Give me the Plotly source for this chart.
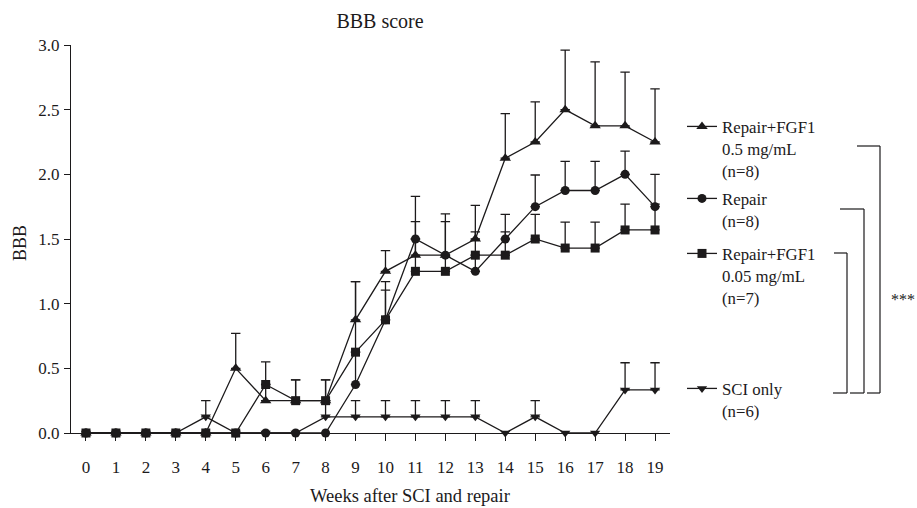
import plotly.graph_objects as go

# ---------------- data ----------------
weeks = list(range(20))
week_labels = [str(w) for w in weeks]

fgf05_mean = [0, 0, 0, 0, 0, 0.5, 0.25, 0.25, 0.25, 0.875, 1.25, 1.375, 1.375, 1.5, 2.125, 2.25, 2.5, 2.375, 2.375, 2.25]
fgf05_sem  = [0, 0, 0, 0, 0, 0.27, 0.125, 0.16, 0.16, 0.295, 0.16, 0.26, 0.32, 0.26, 0.345, 0.31, 0.46, 0.495, 0.415, 0.41]

repair_mean = [0, 0, 0, 0, 0, 0, 0, 0, 0, 0.375, 0.875, 1.5, 1.375, 1.25, 1.5, 1.75, 1.875, 1.875, 2.0, 1.75]
repair_sem  = [0, 0, 0, 0, 0, 0, 0, 0, 0, 0.25, 0.295, 0.33, 0.26, 0.125, 0.19, 0.245, 0.225, 0.225, 0.18, 0.25]

fgf005_mean = [0, 0, 0, 0, 0, 0, 0.375, 0.25, 0.25, 0.625, 0.875, 1.25, 1.25, 1.375, 1.375, 1.5, 1.43, 1.43, 1.57, 1.57]
fgf005_sem  = [0, 0, 0, 0, 0, 0, 0.175, 0.16, 0.16, 0.545, 0.23, 0.25, 0.125, 0.18, 0.18, 0.19, 0.2, 0.2, 0.2, 0.2]

sci_mean = [0, 0, 0, 0, 0.125, 0, 0, 0, 0.125, 0.125, 0.125, 0.125, 0.125, 0.125, 0, 0.125, 0, 0, 0.333, 0.333]
sci_sem  = [0, 0, 0, 0, 0.125, 0, 0, 0, 0.125, 0.125, 0.125, 0.125, 0.125, 0.125, 0, 0.125, 0, 0, 0.21, 0.21]

series = [
    ("Repair+FGF1<br>0.5 mg/mL<br>(n=8)", fgf05_mean, fgf05_sem, "triangle-up", 10, "legend"),
    ("Repair<br>(n=8)", repair_mean, repair_sem, "circle", 9, "legend2"),
    ("Repair+FGF1<br>0.05 mg/mL<br>(n=7)", fgf005_mean, fgf005_sem, "square", 9, "legend3"),
    ("SCI only<br>(n=6)", sci_mean, sci_sem, "triangle-down", 9, "legend4"),
]

# ---------------- geometry helpers ----------------
W, H = 917, 508
L, R, T, B = 71, 670, 45, 433


def px(x):
    return (x - L) / (R - L)


def py(y):
    return (B - y) / (B - T)


INK = "#1c1a1b"
FONT = "Liberation Serif"

fig = go.Figure()

# error bars first (one-sided, upward), only where SEM > 0
for name, mean, sem, sym, size, lg in series:
    xs = [w for w, s in zip(weeks, sem) if s > 0]
    ys = [m for m, s in zip(mean, sem) if s > 0]
    es = [s for s in sem if s > 0]
    fig.add_trace(go.Scatter(
        x=xs, y=ys, mode="markers",
        marker=dict(size=1, color="rgba(0,0,0,0)"),
        error_y=dict(type="data", array=es, arrayminus=[0] * len(es), symmetric=False,
                     color=INK, thickness=1.3, width=4.7),
        showlegend=False, hoverinfo="skip", cliponaxis=False,
    ))

for name, mean, sem, sym, size, lg in series:
    fig.add_trace(go.Scatter(
        x=weeks, y=mean, mode="lines+markers", name=name,
        line=dict(color=INK, width=1.3),
        marker=dict(symbol=sym, size=size, color=INK),
        cliponaxis=False, legend=lg,
    ))

# legends positioned individually
leg_y_px = [127, 199, 254, 389]
legend_common = dict(
    xanchor="left", yanchor="top", x=px(682),
    font=dict(family=FONT, size=16.8, color=INK),
    bgcolor="rgba(0,0,0,0)", borderwidth=0, valign="top",
    itemwidth=30, tracegroupgap=0,
)
layout_legends = {}
for i, key in enumerate(["legend", "legend2", "legend3", "legend4"]):
    d = dict(legend_common)
    d["y"] = py(leg_y_px[i] - 18)
    layout_legends[key] = d

# significance brackets (annotation graphics)
brackets = [
    # (top y, top x start, vertical x, bottom x start)
    (146, 857, 880, 867),
    (209, 840, 864, 850),
    (253, 834, 847, 833),
]
shapes = []
for ty, tx0, vx, bx0 in brackets:
    shapes.append(dict(type="line", xref="paper", yref="paper",
                       x0=px(tx0), x1=px(vx), y0=py(ty), y1=py(ty),
                       line=dict(color=INK, width=1.2)))
    shapes.append(dict(type="line", xref="paper", yref="paper",
                       x0=px(vx), x1=px(vx), y0=py(ty), y1=py(393),
                       line=dict(color=INK, width=1.2)))
    shapes.append(dict(type="line", xref="paper", yref="paper",
                       x0=px(bx0), x1=px(vx), y0=py(393), y1=py(393),
                       line=dict(color=INK, width=1.2)))

annotations = [
    dict(text="***", x=px(903), y=py(299), xref="paper", yref="paper",
         showarrow=False, font=dict(family=FONT, size=16, color=INK),
         xanchor="center", yanchor="middle"),
    dict(text="Weeks after SCI and repair", x=px(410), y=py(496), xref="paper", yref="paper",
         showarrow=False, font=dict(family=FONT, size=18.5, color=INK),
         xanchor="center", yanchor="middle"),
    dict(text="BBB", x=px(20), y=py(243), xref="paper", yref="paper", textangle=-90,
         showarrow=False, font=dict(family=FONT, size=18, color=INK),
         xanchor="center", yanchor="middle"),
]

fig.update_layout(
    width=W, height=H,
    margin=dict(l=L, r=W - R, t=T, b=H - B, autoexpand=False),
    paper_bgcolor="white", plot_bgcolor="white",
    title=dict(text="BBB score", x=px(380), xref="paper", xanchor="center",
               y=1 - 21 / H, yref="container", yanchor="middle",
               font=dict(family=FONT, size=20, color=INK)),
    shapes=shapes, annotations=annotations,
    **layout_legends,
)

fig.update_xaxes(
    range=[-0.5, 19.5], tickmode="array", tickvals=weeks, ticktext=week_labels,
    showline=True, linecolor=INK, linewidth=1.3, ticks="outside", ticklen=7,
    tickwidth=1.2, tickcolor=INK, showgrid=False, zeroline=False,
    tickfont=dict(family=FONT, size=17, color=INK), ticklabelstandoff=11,
)
fig.update_yaxes(
    range=[0, 3], tickmode="linear", tick0=0, dtick=0.5, tickformat=".1f",
    showline=True, linecolor=INK, linewidth=1.3, ticks="outside", ticklen=6,
    tickwidth=1.2, tickcolor=INK, showgrid=False, zeroline=False,
    tickfont=dict(family=FONT, size=17, color=INK), ticklabelstandoff=1,
)

fig.write_html(
    "out.html",
    config={"displayModeBar": False},
    post_script="document.body.style.margin='0';document.body.style.overflow='hidden';",
)
